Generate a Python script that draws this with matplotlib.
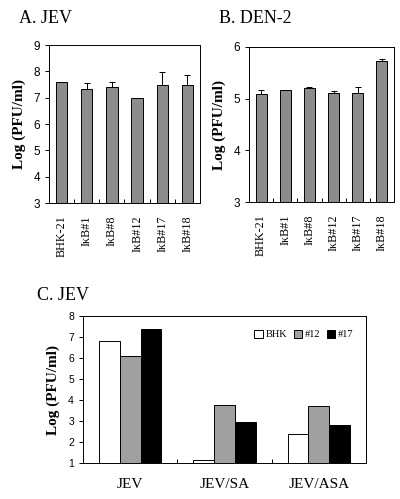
import matplotlib.pyplot as plt
import numpy as np

# panel A: JEV titers in cell lines
lines_ab = ["BHK-21", "IκB#1", "IκB#8", "IκB#12", "IκB#17", "IκB#18"]
jev_a = [7.6, 7.35, 7.4, 7.0, 7.48, 7.48]
jev_a_err = [0.0, 0.2, 0.18, 0.0, 0.5, 0.37]

# panel B: DEN-2 titers
den_b = [5.08, 5.17, 5.2, 5.1, 5.1, 5.73]
den_b_err = [0.09, 0.0, 0.03, 0.05, 0.12, 0.03]

# panel C: JEV with drug treatment
groups_c = ["JEV", "JEV/SA", "JEV/ASA"]
series_c = ["BHK", "#12", "#17"]
bhk_c = [6.82, 1.15, 2.38]
c12_c = [6.08, 3.75, 3.72]
c17_c = [7.38, 2.95, 2.8]

serif = "Liberation Serif"
sans = "Liberation Sans"

fig = plt.figure(figsize=(4.0, 4.99), dpi=100)


def panel_bar(ax, vals, errs, ylim, yticks):
    x = np.arange(len(vals))
    ax.bar(x, vals, width=0.45, color="#8c8c8c", edgecolor="black", linewidth=0.7)
    ax.errorbar(x, vals, yerr=[np.zeros(len(errs)), errs], fmt="none",
                ecolor="black", elinewidth=0.7, capsize=2.5, capthick=0.7)
    ax.set_xlim(-0.5, len(vals) - 0.5)
    ax.set_ylim(*ylim)
    ax.set_yticks(yticks)
    ax.set_yticklabels([str(t) for t in yticks], fontfamily=sans, fontsize=8.5)
    ax.set_xticks(x)
    ax.set_xticklabels(lines_ab, rotation=90, fontfamily=serif, fontsize=8.7)
    ax.tick_params(axis="x", which="major", length=0, pad=9)
    ax.set_xticks(np.arange(0.5, len(vals) - 0.5), minor=True)
    ax.tick_params(axis="x", which="minor", direction="in", length=3, width=0.7)
    ax.tick_params(axis="y", direction="out", length=3, width=0.7)
    ax.set_ylabel("Log (PFU/ml)", fontfamily=serif, fontweight="bold", fontsize=11,
                  labelpad=5)
    for s in ax.spines.values():
        s.set_linewidth(0.7)


axA = fig.add_axes([0.1225, 0.593, 0.3775, 0.3166])
panel_bar(axA, jev_a, jev_a_err, (3, 9), [3, 4, 5, 6, 7, 8, 9])
axB = fig.add_axes([0.6225, 0.595, 0.3625, 0.311])
panel_bar(axB, den_b, den_b_err, (3, 6), [3, 4, 5, 6])

fig.text(0.048, 0.962, "A. JEV", fontfamily=serif, fontsize=13, va="center")
fig.text(0.548, 0.962, "B. DEN-2", fontfamily=serif, fontsize=13, va="center")
fig.text(0.092, 0.408, "C. JEV", fontfamily=serif, fontsize=13, va="center")

# panel C
axC = fig.add_axes([0.2075, 0.0721, 0.7075, 0.2946])
xc = np.arange(len(groups_c))
w = 0.22
axC.bar(xc - w, np.array(bhk_c) - 1, w, bottom=1, color="white", edgecolor="black",
        linewidth=0.7, label=series_c[0])
axC.bar(xc, np.array(c12_c) - 1, w, bottom=1, color="#a0a0a0", edgecolor="black",
        linewidth=0.7, label=series_c[1])
axC.bar(xc + w, np.array(c17_c) - 1, w, bottom=1, color="black", edgecolor="black",
        linewidth=0.7, label=series_c[2])
axC.set_xlim(-0.5, 2.5)
axC.set_ylim(1, 8)
axC.set_yticks(range(1, 9))
axC.set_yticklabels([str(t) for t in range(1, 9)], fontfamily=sans, fontsize=7.5)
axC.set_xticks(xc)
axC.set_xticklabels(groups_c, fontfamily=serif, fontsize=11)
axC.tick_params(axis="x", which="major", length=0, pad=11)
axC.set_xticks([0.5, 1.5], minor=True)
axC.tick_params(axis="x", which="minor", direction="in", length=3, width=0.7)
axC.tick_params(axis="y", direction="out", length=3, width=0.7)
axC.set_ylabel("Log (PFU/ml)", fontfamily=serif, fontweight="bold", fontsize=11,
               labelpad=6)
for s in axC.spines.values():
    s.set_linewidth(0.7)
axC.legend(loc="upper right", ncol=3, frameon=False, prop={"family": serif, "size": 7.5},
           handlelength=0.8, handleheight=0.8, handletextpad=0.3, columnspacing=0.6,
           bbox_to_anchor=(0.99, 0.97))

fig.savefig("out.png", dpi=100)
